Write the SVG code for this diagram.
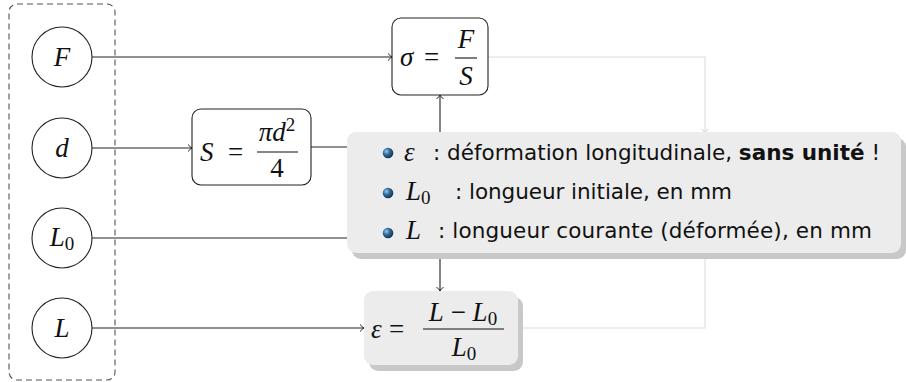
<svg xmlns="http://www.w3.org/2000/svg" width="906" height="382" viewBox="0 0 906 382">
<defs>
<style>
.node{fill:#fff;stroke:#222;stroke-width:1.1}
.math{font-family:"Liberation Serif","DejaVu Serif",serif;font-style:italic;font-size:27px;fill:#111}
.up{font-family:"Liberation Serif","DejaVu Serif",serif;font-style:normal;font-size:27px;fill:#111}
.sub{font-family:"Liberation Serif","DejaVu Serif",serif;font-style:normal;font-size:19px;fill:#111}
.txt{font-family:"DejaVu Sans","Liberation Sans",sans-serif;font-size:21.5px;fill:#111}
.conn{fill:none;stroke:#222;stroke-width:1.1}
.light{fill:none;stroke:#dcdcdc;stroke-width:1.1}
.bar{stroke:#111;stroke-width:1.1}
</style>
<marker id="to" markerWidth="10" markerHeight="10" refX="9" refY="5" orient="auto" markerUnits="userSpaceOnUse">
<path d="M5 1.5 Q7.5 4.2 9 5 Q7.5 5.8 5 8.5" fill="none" stroke="#222" stroke-width="1"/>
</marker>
<radialGradient id="ball" cx="0.35" cy="0.35" r="0.7">
<stop offset="0" stop-color="#9cc4e0"/>
<stop offset="0.45" stop-color="#2f6f9c"/>
<stop offset="1" stop-color="#0b2f4c"/>
</radialGradient>
</defs>
<rect width="906" height="382" fill="#fff"/>

<g id="inputs-frame">
<rect x="9" y="4" width="106" height="376" rx="8" fill="none" stroke="#555" stroke-width="1.1" stroke-dasharray="6,4"/>
</g>

<g id="connectors">
<path class="light" d="M488 57 H705 V328 H518"/>
<path d="M702 129 Q704.3 131.5 705 133 Q705.7 131.5 708 129" fill="none" stroke="#cfcfcf" stroke-width="1"/>
<path class="conn" d="M92 57 H392" marker-end="url(#to)"/>
<path class="conn" d="M92 148 H192" marker-end="url(#to)"/>
<path class="conn" d="M311 147 H440 V95" marker-end="url(#to)"/>
<path class="conn" d="M92 238 H440 V291" marker-end="url(#to)"/>
<path class="conn" d="M92 328 H364" marker-end="url(#to)"/>
</g>

<g id="node-F">
<circle class="node" cx="62" cy="57" r="30"/>
<text class="math" x="62" y="66" text-anchor="middle">F</text>
</g>
<g id="node-d">
<circle class="node" cx="62" cy="148" r="30"/>
<text class="math" x="62" y="157" text-anchor="middle">d</text>
</g>
<g id="node-L0">
<circle class="node" cx="62" cy="238" r="30"/>
<text x="62" y="246" text-anchor="middle"><tspan class="math">L</tspan><tspan class="sub" dy="4">0</tspan></text>
</g>
<g id="node-L">
<circle class="node" cx="62" cy="328" r="30"/>
<text class="math" x="62" y="337" text-anchor="middle">L</text>
</g>

<g id="node-sigma">
<rect class="node" x="392" y="18" width="96" height="77" rx="9"/>
<text class="math" x="400" y="66">σ</text>
<text class="up" x="424" y="66">=</text>
<line class="bar" x1="455" y1="58" x2="477" y2="58"/>
<text class="math" x="466" y="48" text-anchor="middle">F</text>
<text class="math" x="466" y="85" text-anchor="middle">S</text>
</g>

<g id="node-S">
<rect class="node" x="192" y="109" width="119" height="76" rx="9"/>
<text class="math" x="200" y="161">S</text>
<text class="up" x="228" y="161">=</text>
<line class="bar" x1="257" y1="152" x2="298" y2="152"/>
<text x="277" y="141" text-anchor="middle"><tspan class="math">πd</tspan><tspan class="sub" dy="-10">2</tspan></text>
<text class="up" x="277" y="177" text-anchor="middle">4</text>
</g>

<g id="node-epsilon">
<rect x="369" y="297" width="154" height="74" rx="9" fill="#c8c8c8"/>
<rect x="364" y="291" width="154" height="74" rx="9" fill="#ececec"/>
<text class="math" x="371" y="338">ε</text>
<text class="up" x="389" y="338">=</text>
<line class="bar" x1="423" y1="329" x2="504" y2="329"/>
<text x="463" y="321" text-anchor="middle"><tspan class="math">L</tspan><tspan class="up"> − </tspan><tspan class="math">L</tspan><tspan class="sub" dy="4">0</tspan></text>
<text x="464" y="356" text-anchor="middle"><tspan class="math">L</tspan><tspan class="sub" dy="4">0</tspan></text>
</g>

<g id="legend">
<rect x="352" y="138" width="554" height="121" rx="9" fill="#c8c8c8"/>
<rect x="347" y="132" width="554" height="121" rx="9" fill="#ececec"/>
<circle cx="388" cy="153" r="5.3" fill="url(#ball)"/>
<circle cx="388" cy="193" r="5.3" fill="url(#ball)"/>
<circle cx="388" cy="233" r="5.3" fill="url(#ball)"/>
<text class="math" x="404" y="161">ε</text>
<text class="txt" x="433" y="160" textLength="447" lengthAdjust="spacing">: déformation longitudinale, <tspan font-weight="bold">sans unité</tspan> !</text>
<text x="406" y="200"><tspan class="math">L</tspan><tspan class="sub" dy="4">0</tspan></text>
<text class="txt" x="455" y="199" textLength="277" lengthAdjust="spacing">: longueur initiale, en mm</text>
<text class="math" x="406" y="239">L</text>
<text class="txt" x="438" y="238" textLength="434" lengthAdjust="spacing">: longueur courante (déformée), en mm</text>
</g>
</svg>
